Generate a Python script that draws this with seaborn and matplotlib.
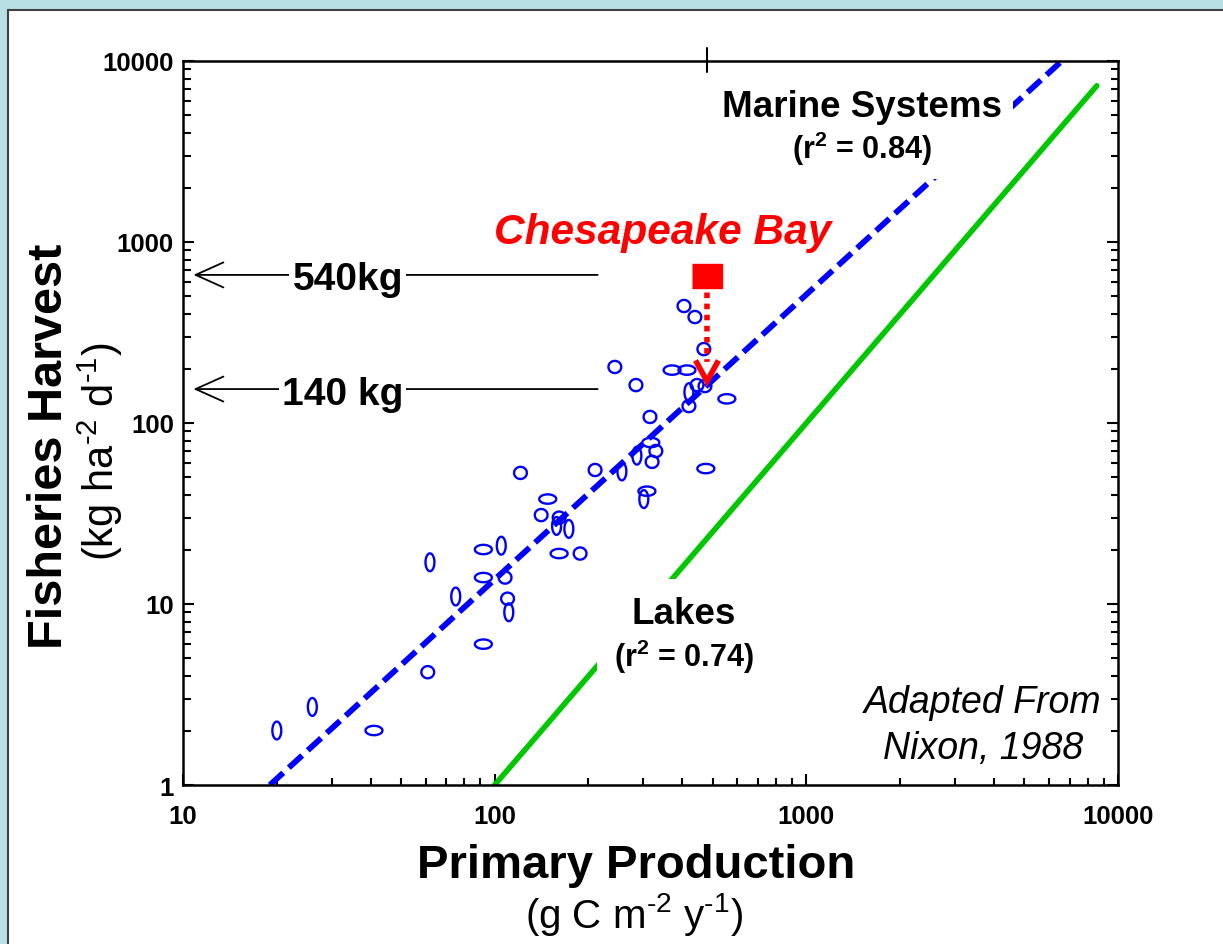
import numpy as np
import matplotlib
matplotlib.use("Agg")
import matplotlib.pyplot as plt
import seaborn as sns
from matplotlib.patches import Rectangle
from matplotlib.path import Path
from matplotlib.offsetbox import TextArea, VPacker, AnnotationBbox
from matplotlib.ticker import LogLocator, NullFormatter

# ---------------- data ----------------
marine_x = [20, 26, 41, 61, 62, 75, 92, 92, 92, 105, 108, 110, 111, 121, 141, 148,
            161, 158, 173, 161, 188, 210, 256, 243, 284, 286, 301, 308, 315, 317,
            329, 320, 371, 414, 405, 439, 469, 446, 420, 473, 420, 556, 476]
marine_y = [2.0, 2.7, 2.0, 4.2, 17, 11, 6.0, 20, 14, 21, 14, 10.7, 9.0, 53, 31, 38,
            30, 27, 26, 19, 19, 55, 54, 204, 162, 66, 38, 42, 108, 78,
            70, 61, 196, 196, 443, 385, 256, 162, 148, 160, 124, 136, 56]
marine_shape = ["v", "v", "h", "c", "v", "v", "h", "h", "h", "v", "c", "c", "v", "c", "c", "h",
                "c", "v", "v", "h", "c", "c", "v", "c", "c", "v", "v", "h", "c", "h",
                "c", "c", "h", "h", "c", "c", "c", "c", "v", "c", "c", "h", "h"]

marine_fit_x = [19, 6600]
marine_fit_y = [1, 10000]
lakes_fit_x = [100, 8550]
lakes_fit_y = [1, 7300]

chesapeake_x = 480
chesapeake_y = 650
chesapeake_pred = 170

harvest_values = [658, 154]
harvest_labels = ["540kg", "140 kg"]
harvest_from_x = 214
harvest_to_x = 10.8
harvest_label_x = 50.8

xticks = [10, 100, 1000, 10000]
xtick_labels = ["10", "100", "1000", "10000"]
yticks = [1, 10, 100, 1000, 10000]
ytick_labels = ["1", "10", "100", "1000", "10000"]

# ---------------- style ----------------
sns.set_style("ticks")
plt.rcParams["font.family"] = ["Liberation Sans", "DejaVu Sans"]
plt.rcParams["mathtext.fontset"] = "custom"
plt.rcParams["mathtext.rm"] = "Liberation Sans"
plt.rcParams["mathtext.it"] = "Liberation Sans:italic"
plt.rcParams["mathtext.bf"] = "Liberation Sans:bold"
plt.rcParams.update({"text.color": "black", "axes.labelcolor": "black",
                     "xtick.color": "black", "ytick.color": "black",
                     "axes.edgecolor": "black"})

W, H = 1223, 945
fig = plt.figure(figsize=(W / 100, H / 100), dpi=100, facecolor="#B8DFE3")
panel = Rectangle((8 / W, -0.1), 1.2, 1.1 - 11 / H, transform=fig.transFigure,
                  facecolor="white", edgecolor="#404040", lw=1.5, zorder=-5)
fig.add_artist(panel)

ax = fig.add_axes([183 / W, 1 - 786 / H, 935 / W, 724 / H])
ax.set_facecolor("none")
ax.set_xscale("log")
ax.set_yscale("log")
ax.set_xlim(10, 10000)
ax.set_ylim(1, 10000)

BLUE = "#0000FF"
GREEN = "#00C800"
RED = "#FF0000"

# regression lines
sns.lineplot(x=lakes_fit_x, y=lakes_fit_y, color=GREEN, lw=4, estimator=None,
             sort=False, ax=ax, zorder=2)
sns.lineplot(x=marine_fit_x, y=marine_fit_y, color=BLUE, lw=4.2, estimator=None,
             sort=False, ax=ax, zorder=2)
ax.lines[-1].set_dashes((3.1, 1.3))

# point markers (open ellipses)
t = np.linspace(0, 2 * np.pi, 60)
shape_markers = {
    "v": list(zip(0.5 * np.cos(t), np.sin(t))),
    "h": list(zip(np.cos(t), 0.55 * np.sin(t))),
    "c": list(zip(np.cos(t), 0.95 * np.sin(t))),
}
shape_sizes = {"v": 165, "h": 150, "c": 85}
mx = np.array(marine_x, float)
my = np.array(marine_y, float)
ms_arr = np.array(marine_shape)
for key in ["v", "h", "c"]:
    sel = ms_arr == key
    sns.scatterplot(x=mx[sel], y=my[sel], marker=shape_markers[key], s=shape_sizes[key],
                    color=BLUE, facecolor="none", edgecolor=BLUE, linewidth=1.7,
                    ax=ax, zorder=3)
for coll in ax.collections:
    coll.set_facecolor("none")
    coll.set_edgecolor(BLUE)

# Chesapeake Bay point, dotted arrow
rect_marker = [(-1, -0.77), (1, -0.77), (1, 0.77), (-1, 0.77)]
sns.scatterplot(x=[chesapeake_x], y=[chesapeake_y], marker=rect_marker, s=466,
                color=RED, edgecolor=RED, linewidth=1, ax=ax, zorder=4)
ax.annotate("", xy=(chesapeake_x, chesapeake_pred), xytext=(chesapeake_x, chesapeake_y),
            arrowprops=dict(arrowstyle="-", color=RED, lw=4, linestyle=(0, (1.0, 1.0)),
                            capstyle="butt", shrinkA=12, shrinkB=14), zorder=4)
vhead = Path([(-0.55, 1), (0, 0), (0.55, 1)], [Path.MOVETO, Path.LINETO, Path.LINETO])
sns.scatterplot(x=[chesapeake_x], y=[chesapeake_pred], marker=vhead, s=900,
                color=RED, facecolor="none", edgecolor=RED, linewidth=4, ax=ax, zorder=4)
ax.collections[-1].set_facecolor("none")
ax.collections[-1].set_joinstyle("miter")
ax.annotate("Chesapeake Bay", xy=(chesapeake_x, chesapeake_y), xytext=(-32, 23.4),
            textcoords="offset points", ha="center", va="baseline", color=RED,
            fontsize=30.5, fontweight="bold", fontstyle="italic", zorder=5)

# harvest arrows
for val, lab in zip(harvest_values, harvest_labels):
    ax.annotate("", xy=(harvest_to_x, val), xytext=(harvest_from_x, val),
                arrowprops=dict(arrowstyle="->,head_length=1.0,head_width=0.45",
                                mutation_scale=20, lw=1.3, color="black",
                                shrinkA=0, shrinkB=0), zorder=3)
    ax.annotate(lab, xy=(harvest_label_x, val), xytext=(0, -10.5),
                textcoords="offset points", ha="right", va="baseline",
                fontsize=28, fontweight="bold",
                bbox=dict(boxstyle="square,pad=0.08", fc="white", ec="none"), zorder=4)

# line labels with white boxes
def label_block(title, sub, xy, pad):
    ta1 = TextArea(title, textprops=dict(fontsize=26.5, fontweight="bold"))
    ta2 = TextArea(sub, textprops=dict(fontsize=22, fontweight="bold"))
    vp = VPacker(children=[ta1, ta2], align="center", pad=0, sep=4)
    ab = AnnotationBbox(vp, xy, xycoords="data", frameon=True, pad=pad, fontsize=10,
                        box_alignment=(0.5, 0.5),
                        bboxprops=dict(facecolor="white", edgecolor="none"))
    ab.set_zorder(6)
    ax.add_artist(ab)

label_block("Marine Systems", r"(r$^{\mathbf{2}}$ = 0.84)", (1508, 4264), 0.8)
label_block("Lakes", r"(r$^{\mathbf{2}}$ = 0.74)", (405, 6.7), 1.2)

ax.text(0.8556, 0.1008, "Adapted From", transform=ax.transAxes, ha="center",
        va="baseline", fontsize=27, fontstyle="italic")
ax.text(0.8556, 0.0373, "Nixon, 1988", transform=ax.transAxes, ha="center",
        va="baseline", fontsize=27, fontstyle="italic")

# odd tick on top spine above the Chesapeake position
ax.axvline(chesapeake_x, ymin=0.985, ymax=1.018, color="black", lw=1.5, clip_on=False)

# ticks
ax.set_xticks(xticks, labels=xtick_labels)
ax.set_yticks(yticks, labels=ytick_labels)
ax.xaxis.set_minor_locator(LogLocator(base=10, subs=np.arange(2, 10)))
ax.yaxis.set_minor_locator(LogLocator(base=10, subs=np.arange(2, 10)))
ax.xaxis.set_minor_formatter(NullFormatter())
ax.yaxis.set_minor_formatter(NullFormatter())
ax.tick_params(which="both", direction="in", width=1.5, color="black",
               labelcolor="black", labelsize=18.5, top=False, right=True)
ax.tick_params(which="major", length=8)
ax.tick_params(which="minor", length=5.4)
ax.tick_params(axis="x", pad=13.7)
ax.tick_params(axis="y", pad=6.5)
for lbl in ax.get_xticklabels() + ax.get_yticklabels():
    lbl.set_fontweight("bold")
for sp in ax.spines.values():
    sp.set_visible(True)
    sp.set_linewidth(1.8)
    sp.set_color("black")
ax.set_xlabel("")
ax.set_ylabel("")

# axis titles
fig.text(636 / W, 1 - 878 / H, "Primary Production", ha="center", va="baseline",
         fontsize=34, fontweight="bold")
fig.text(634 / W, 1 - 928 / H, r"(g C m$^{\text{-2}}$ y$^{\text{-1}}$)",
         ha="center", va="baseline", fontsize=29)
fig.text(62 / W, 1 - 446 / H, "Fisheries Harvest", rotation=90, rotation_mode="anchor",
         ha="center", va="baseline", fontsize=35, fontweight="bold")
fig.text(114 / W, 1 - 452 / H, r"(kg ha$^{\text{-2}}$ d$^{\text{-1}}$)",
         rotation=90, rotation_mode="anchor", ha="center", va="baseline", fontsize=30)

fig.savefig("out.png", dpi=100, facecolor=fig.get_facecolor())
